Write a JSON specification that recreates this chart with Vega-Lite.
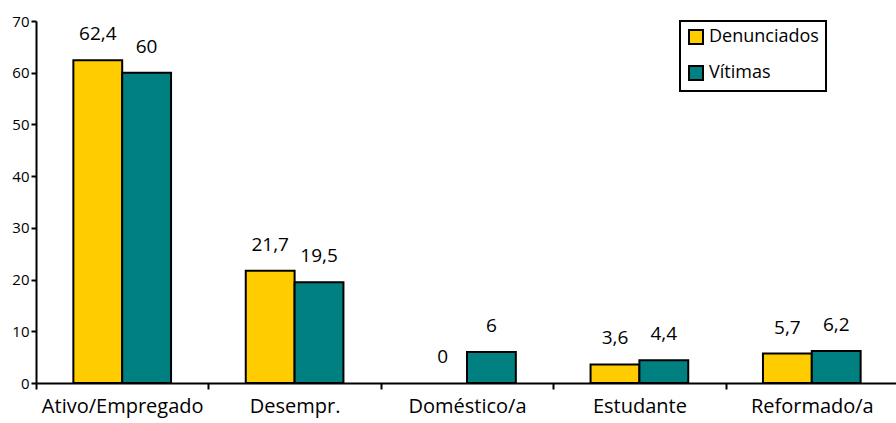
{
  "$schema": "https://vega.github.io/schema/vega-lite/v6.json",
  "autosize": "none",
  "width": 862,
  "height": 362,
  "padding": {"left": 36, "top": 21, "right": 0, "bottom": 40},
  "background": "white",
  "config": {
    "view": {"stroke": null},
    "font": "Open Sans",
    "axis": {"domainColor": "black", "tickColor": "black", "labelColor": "black", "grid": false, "domainWidth": 2, "tickWidth": 2, "title": null},
    "legend": {"strokeColor": "black", "strokeWidth": 2}
  },
  "data": {"values": [
    {"cat": "Ativo/Empregado", "serie": "Denunciados", "v": 62.4, "lbl": "62,4"},
    {"cat": "Ativo/Empregado", "serie": "Vítimas", "v": 60, "lbl": "60"},
    {"cat": "Desempr.", "serie": "Denunciados", "v": 21.7, "lbl": "21,7"},
    {"cat": "Desempr.", "serie": "Vítimas", "v": 19.5, "lbl": "19,5"},
    {"cat": "Doméstico/a", "serie": "Denunciados", "v": 0, "lbl": "0"},
    {"cat": "Doméstico/a", "serie": "Vítimas", "v": 6, "lbl": "6"},
    {"cat": "Estudante", "serie": "Denunciados", "v": 3.6, "lbl": "3,6"},
    {"cat": "Estudante", "serie": "Vítimas", "v": 4.4, "lbl": "4,4"},
    {"cat": "Reformado/a", "serie": "Denunciados", "v": 5.7, "lbl": "5,7"},
    {"cat": "Reformado/a", "serie": "Vítimas", "v": 6.2, "lbl": "6,2"}
  ]},
  "encoding": {
    "x": {"field": "cat", "type": "nominal", "sort": null, "scale": {"paddingInner": 0, "paddingOuter": 0},
      "axis": {"labelAngle": 0, "labelFontSize": 20, "tickBand": "extent", "tickSize": 6, "labelPadding": 7}},
    "xOffset": {"field": "serie", "type": "nominal", "sort": ["Denunciados", "Vítimas"], "scale": {"paddingInner": 0, "paddingOuter": 0.765}},
    "y": {"field": "v", "type": "quantitative", "scale": {"domain": [0, 70], "nice": false},
      "axis": {"values": [0, 10, 20, 30, 40, 50, 60, 70], "labelFontSize": 15, "tickSize": 5, "labelPadding": 2}}
  },
  "layer": [
    {
      "mark": {"type": "bar", "stroke": "black", "strokeWidth": 2},
      "encoding": {
        "strokeOpacity": {"condition": {"test": "datum.v === 0", "value": 0}, "value": 1},
        "color": {"field": "serie", "type": "nominal", "sort": ["Denunciados", "Vítimas"],
          "scale": {"domain": ["Denunciados", "Vítimas"], "range": ["#FFCC00", "#008080"]},
          "legend": {"title": null, "orient": "none", "legendX": 644, "legendY": 0, "direction": "vertical",
            "fillColor": "white", "padding": 7,
            "labelFontSize": 18, "labelColor": "black", "symbolType": "square", "symbolSize": 196,
            "symbolStrokeColor": "black", "symbolStrokeWidth": 2, "symbolOpacity": 1, "rowPadding": 14, "labelOffset": 4}}
      }
    },
    {
      "mark": {"type": "text", "fontSize": 19, "dy": -26, "baseline": "middle", "color": "black"},
      "encoding": {"text": {"field": "lbl"}}
    }
  ]
}
